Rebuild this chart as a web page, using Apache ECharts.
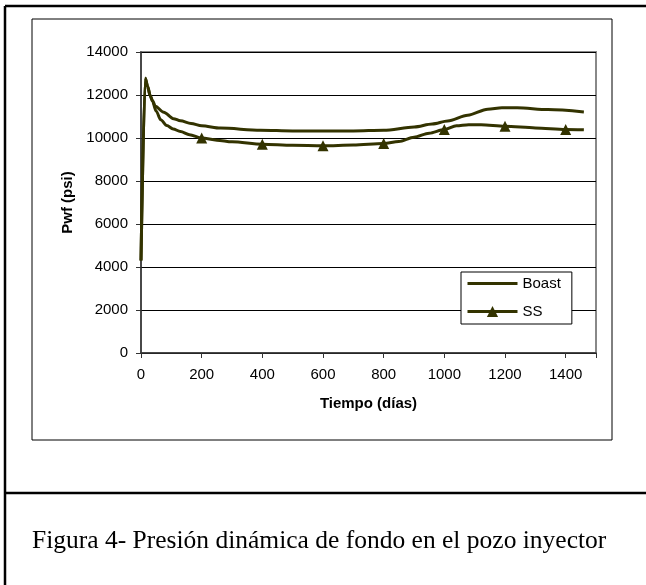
<!DOCTYPE html>
<html>
<head>
<meta charset="utf-8">
<script src="https://cdn.jsdelivr.net/npm/echarts@6/dist/echarts.min.js"></script>
<style>
  html, body { margin: 0; padding: 0; background: #fff; }
  #main { width: 646px; height: 585px; }
</style>
</head>
<body>
<div id="main"></div>
<script>
// Boast curve (días, psi)
var boastDays = [0, 14, 22, 30, 38, 47, 75, 107, 130, 165, 200, 262, 394, 500, 600, 700, 800, 901, 960, 1011, 1077, 1143, 1190, 1240, 1342, 1460];
var boastPwf  = [4300, 12780, 12400, 11980, 11750, 11480, 11200, 10900, 10800, 10680, 10570, 10460, 10360, 10330, 10320, 10330, 10360, 10510, 10650, 10790, 11060, 11340, 11410, 11410, 11320, 11210];

// SS curve (días, psi)
var ssDays = [0, 14, 22, 30, 38, 50, 65, 85, 106, 130, 160, 200, 250, 300, 400, 500, 600, 700, 800, 850, 900, 950, 1000, 1040, 1080, 1121, 1200, 1300, 1400, 1460];
var ssPwf  = [4300, 12780, 12400, 11980, 11700, 11250, 10850, 10580, 10420, 10300, 10150, 10000, 9900, 9820, 9710, 9660, 9640, 9670, 9740, 9840, 10040, 10220, 10390, 10570, 10620, 10620, 10545, 10470, 10400, 10380];
// days where the SS triangles are drawn
var ssMarkerDays = [200, 400, 600, 800, 1000, 1200, 1400];

var xTicks = [0, 200, 400, 600, 800, 1000, 1200, 1400];

var lineColor = '#333300';
var font = 'Liberation Sans, Arial, sans-serif';

var boastData = [];
for (var i = 0; i < boastDays.length; i++) {
  boastData.push([boastDays[i], boastPwf[i]]);
}
var ssData = [];
for (var j = 0; j < ssDays.length; j++) {
  var item = { value: [ssDays[j], ssPwf[j]] };
  if (ssMarkerDays.indexOf(ssDays[j]) < 0) item.symbol = 'none';
  ssData.push(item);
}

var myChart = echarts.init(document.getElementById('main'));

var option = {
  animation: false,
  backgroundColor: '#fff',
  textStyle: { fontFamily: font },
  grid: {
    left: 141, right: 50, top: 52, bottom: 232,
    show: true,
    borderColor: '#888',
    borderWidth: 2,
    backgroundColor: 'transparent'
  },
  legend: {
    orient: 'vertical',
    left: 461,
    top: 272,
    padding: [4, 11, 5, 5],
    itemGap: 13,
    itemWidth: 50,
    itemHeight: 14,
    borderColor: '#000',
    borderWidth: 1,
    backgroundColor: '#fff',
    lineStyle: { width: 3, color: lineColor },
    textStyle: { fontFamily: font, fontSize: 15, color: '#000' },
    data: [
      { name: 'Boast', icon: 'path://M0,0 L50,0 L50,3 L0,3 Z' },
      { name: 'SS' }
    ]
  },
  xAxis: {
    type: 'value',
    min: 0,
    max: 1500,
    interval: 200,
    name: 'Tiempo (días)',
    nameLocation: 'middle',
    nameGap: 43,
    nameTextStyle: { fontFamily: font, fontSize: 15, fontWeight: 'bold', color: '#000' },
    axisLine: { show: true, onZero: false, lineStyle: { color: '#333', width: 1.5 } },
    axisTick: { show: true, inside: false, length: 5, lineStyle: { color: '#333' } },
    axisLabel: {
      margin: 14,
      fontSize: 15,
      color: '#000',
      fontFamily: font,
      formatter: function (v) { return xTicks.indexOf(v) >= 0 ? String(v) : ''; }
    },
    splitLine: { show: false }
  },
  yAxis: {
    type: 'value',
    min: 0,
    max: 14000,
    interval: 2000,
    name: 'Pwf (psi)',
    nameLocation: 'middle',
    nameGap: 65,
    nameRotate: 90,
    nameTextStyle: { fontFamily: font, fontSize: 15, fontWeight: 'bold', color: '#000' },
    axisLine: { show: true, onZero: false, lineStyle: { color: '#333', width: 1.5 } },
    axisTick: { show: true, inside: false, length: 5, lineStyle: { color: '#333' } },
    axisLabel: {
      margin: 13, fontSize: 15, color: '#000', fontFamily: font,
      formatter: function (v) { return String(v); }
    },
    splitLine: { show: true, lineStyle: { color: '#000', width: 1 } }
  },
  series: [
    {
      name: 'Boast',
      type: 'line',
      data: boastData,
      smooth: 0.3,
      smoothMonotone: 'x',
      symbol: 'none',
      lineStyle: { color: lineColor, width: 3 },
      itemStyle: { color: lineColor },
      z: 3
    },
    {
      name: 'SS',
      type: 'line',
      data: ssData,
      smooth: 0.3,
      smoothMonotone: 'x',
      symbol: 'triangle',
      symbolSize: 11,
      showSymbol: true,
      lineStyle: { color: lineColor, width: 3 },
      itemStyle: { color: lineColor },
      z: 4
    }
  ],
  graphic: [
    { type: 'line', shape: { x1: 5, y1: 6, x2: 5, y2: 585 }, style: { stroke: '#000', lineWidth: 2.5 }, z: -1 },
    { type: 'line', shape: { x1: 5, y1: 6, x2: 646, y2: 6 }, style: { stroke: '#000', lineWidth: 2.5 }, z: -1 },
    { type: 'line', shape: { x1: 5, y1: 493, x2: 646, y2: 493 }, style: { stroke: '#000', lineWidth: 2.5 }, z: -1 },
    { type: 'rect', shape: { x: 32, y: 19, width: 580, height: 421 }, style: { fill: 'none', stroke: '#000', lineWidth: 1 }, z: -1 },
    {
      type: 'text',
      left: 32,
      top: 528,
      style: {
        text: 'Figura 4- Presión dinámica de fondo en el pozo inyector',
        font: '25.5px "Liberation Serif", "Times New Roman", serif',
        fill: '#000'
      }
    }
  ]
};

myChart.setOption(option);
</script>
</body>
</html>
